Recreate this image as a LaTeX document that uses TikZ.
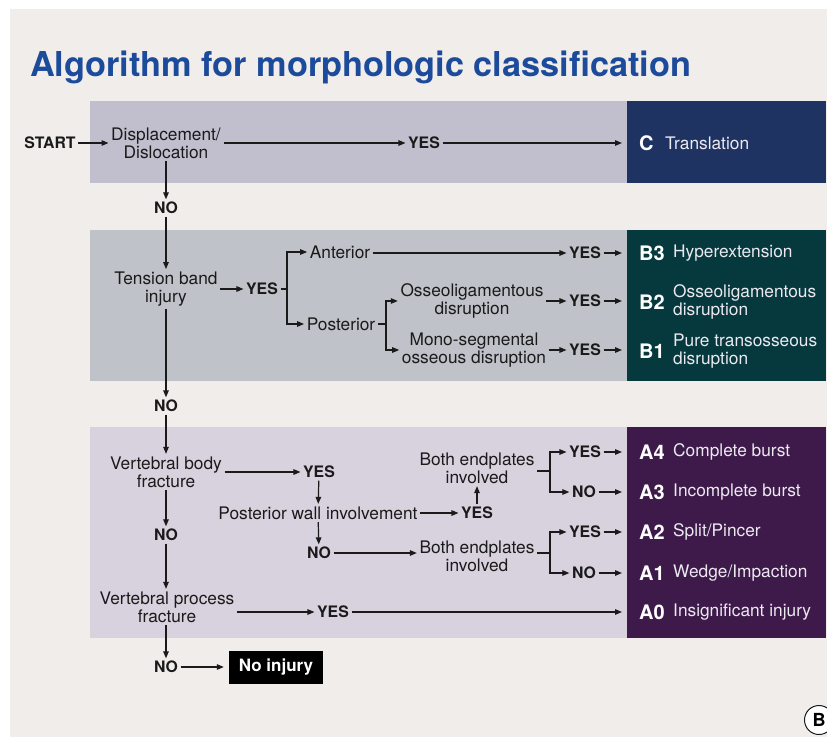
\documentclass[tikz,border=0pt]{standalone}
\usepackage{fontspec}
\setmainfont{TeX Gyre Heros}
\usetikzlibrary{arrows.meta}
\definecolor{panel}{HTML}{F0EDEA}
\definecolor{secone}{HTML}{C1BFCE}
\definecolor{sectwo}{HTML}{BFC2C8}
\definecolor{secthree}{HTML}{D8D1DE}
\definecolor{cnavy}{HTML}{1F3362}
\definecolor{bteal}{HTML}{06393E}
\definecolor{apurp}{HTML}{3E1A4B}
\definecolor{ttl}{HTML}{1D4B9B}
\definecolor{ink}{HTML}{1A1A1A}
\definecolor{pale}{HTML}{ECEAF0}
\begin{document}
\begin{tikzpicture}[x=1pt,y=-1pt,
  txt/.style={font=\fontsize{17.3}{18}\selectfont, text=ink, align=center, inner sep=2.5pt},
  lbl/.style={font=\bfseries\fontsize{15.8}{18}\selectfont, text=ink, inner sep=2.5pt},
  code/.style={font=\bfseries\fontsize{20}{20}\selectfont, text=white, anchor=west, inner sep=0pt},
  desc/.style={font=\fontsize{17.3}{18}\selectfont, text=pale, anchor=west, align=left, inner sep=0pt},
  arr/.style={-{Triangle[length=7pt,width=5.5pt]}, line width=1.2pt, draw=ink},
  ln/.style={line width=1.2pt, draw=ink}]
\useasboundingbox (0,0) rectangle (827,738);
\fill[white] (0,0) rectangle (827,738);
\fill[panel] (10,9) rectangle (827,737);
% title
\node[anchor=base west, inner sep=0pt, text=ttl, font=\bfseries\fontsize{34.3}{36}\selectfont] (title) at (30,77) {Algorithm for morphologic classification};
% section backgrounds
\fill[secone] (90,101) rectangle (627,183);
\fill[cnavy] (627,101) rectangle (826,183);
\fill[sectwo] (90,230) rectangle (627,381);
\fill[bteal] (627,230) rectangle (826,381);
\fill[secthree] (90,427) rectangle (627,638);
\fill[apurp] (627,427) rectangle (826,638);
% entry points into result boxes
\coordinate (cin) at (622,143);
\coordinate (b3in) at (622,253);
\coordinate (b2in) at (622,301);
\coordinate (b1in) at (622,350);
\coordinate (a4in) at (622,452);
\coordinate (a3in) at (622,492);
\coordinate (a2in) at (622,532);
\coordinate (a1in) at (622,573);
\coordinate (a0in) at (622,612);
% ---- section C
\node[lbl] (start) at (50,143) {START};
\node[txt] (disp) at (166,143) {Displacement/\\Dislocation};
\node[lbl] (yes1) at (424,143) {YES};
\draw[arr] (start) -- (disp);
\draw[arr] (disp) -- (yes1);
\draw[arr] (yes1) -- (cin);
\node[code] (cc) at (639,143) {C};
\node[desc] (cd) at (665,143) {Translation};
\node[lbl] (no1) at (166,208) {NO};
\draw[arr] (disp) -- (no1);
% ---- section B
\node[txt] (tension) at (166,289) {Tension band\\injury};
\draw[arr] (no1) -- (tension);
\node[lbl] (yes2) at (262,289) {YES};
\draw[arr] (tension) -- (yes2);
\coordinate (br1) at (287,289);
\node[txt] (ant) at (340,252) {Anterior};
\node[txt] (post) at (341,324) {Posterior};
\draw[ln] (yes2) -- (br1);
\draw[arr] (br1) |- (ant);
\draw[arr] (br1) |- (post);
\coordinate (br2) at (386,324);
\node[txt] (oss) at (472,301) {Osseoligamentous\\disruption};
\node[txt] (mono) at (474,350) {Mono-segmental\\osseous disruption};
\draw[ln] (post) -- (br2);
\draw[arr] (br2) |- (oss);
\draw[arr] (br2) |- (mono);
\node[lbl] (yesb3) at (585,253) {YES};
\node[lbl] (yesb2) at (585,301) {YES};
\node[lbl] (yesb1) at (585,350) {YES};
\draw[arr] (ant.east |- yesb3) -- (yesb3);
\draw[arr] (oss) -- (yesb2);
\draw[arr] (mono) -- (yesb1);
\draw[arr] (yesb3) -- (b3in);
\draw[arr] (yesb2) -- (b2in);
\draw[arr] (yesb1) -- (b1in);
\node[code] (b3c) at (639,253) {B3};
\node[desc] (b3d) at (673,253) {Hyperextension};
\node[code] (b2c) at (639,302) {B2};
\node[desc] (b2d) at (673,302) {Osseoligamentous\\disruption};
\node[code] (b1c) at (639,351) {B1};
\node[desc] (b1d) at (673,351) {Pure transosseous\\disruption};
\node[lbl] (no2) at (166,406) {NO};
\draw[arr] (tension) -- (no2);
% ---- section A
\node[txt] (vbody) at (166,472) {Vertebral body\\fracture};
\draw[arr] (no2) -- (vbody);
\node[lbl] (yes3) at (319,472) {YES};
\draw[arr] (vbody) -- (yes3);
\node[txt] (pwi) at (318,513) {Posterior wall involvement};
\draw[arr] (yes3) -- (pwi);
\node[lbl] (yes4) at (477,513) {YES};
\draw[arr] (pwi) -- (yes4);
\node[txt] (bep1) at (477,468) {Both endplates\\involved};
\draw[arr] (yes4) -- (bep1);
\coordinate (br3) at (550,471);
\draw[ln] (bep1.east |- br3) -- (br3);
\node[lbl] (yesa4) at (585,452) {YES};
\node[lbl] (noa3) at (584,492) {NO};
\draw[arr] (br3) |- (yesa4);
\draw[arr] (br3) |- (noa3);
\draw[arr] (yesa4) -- (a4in);
\draw[arr] (noa3) -- (a3in);
\node[lbl] (no4) at (319,553) {NO};
\draw[arr] (pwi) -- (no4);
\node[txt] (bep2) at (477,556) {Both endplates\\involved};
\draw[arr] (no4) -- (no4.east -| bep2.west);
\coordinate (br4) at (550,553);
\draw[ln] (bep2.east |- br4) -- (br4);
\node[lbl] (yesa2) at (585,532) {YES};
\node[lbl] (noa1) at (584,573) {NO};
\draw[arr] (br4) |- (yesa2);
\draw[arr] (br4) |- (noa1);
\draw[arr] (yesa2) -- (a2in);
\draw[arr] (noa1) -- (a1in);
\node[lbl] (no3) at (166,535) {NO};
\draw[arr] (vbody) -- (no3);
\node[txt] (vproc) at (167,607) {Vertebral process\\fracture};
\draw[arr] (no3) -- (vproc.north -| no3);
\node[lbl] (yes5) at (333,612) {YES};
\draw[arr] (vproc.east |- yes5) -- (yes5);
\draw[arr] (yes5) -- (a0in);
\node[code] (a4c) at (639,452) {A4};
\node[desc] (a4d) at (673,452) {Complete burst};
\node[code] (a3c) at (639,492) {A3};
\node[desc] (a3d) at (673,492) {Incomplete burst};
\node[code] (a2c) at (639,532) {A2};
\node[desc] (a2d) at (673,532) {Split/Pincer};
\node[code] (a1c) at (639,573) {A1};
\node[desc] (a1d) at (673,573) {Wedge/Impaction};
\node[code] (a0c) at (639,612) {A0};
\node[desc] (a0d) at (673,612) {Insignificant injury};
% ---- no injury
\node[lbl] (no5) at (166,667) {NO};
\draw[arr] (vproc.south -| no5) -- (no5);
\node[fill=black, text=white, font=\bfseries\fontsize{17}{18}\selectfont, minimum width=94pt, minimum height=33pt, inner sep=0pt] (noinj) at (276,667) {No injury};
\draw[arr] (no5) -- ([xshift=-5pt]noinj.west);
% ---- panel mark
\node[circle, draw=ink, fill=white, line width=1pt, minimum size=29pt, inner sep=0pt, font=\bfseries\fontsize{18}{18}\selectfont] (mark) at (819,720) {B};
\end{tikzpicture}
\end{document}
